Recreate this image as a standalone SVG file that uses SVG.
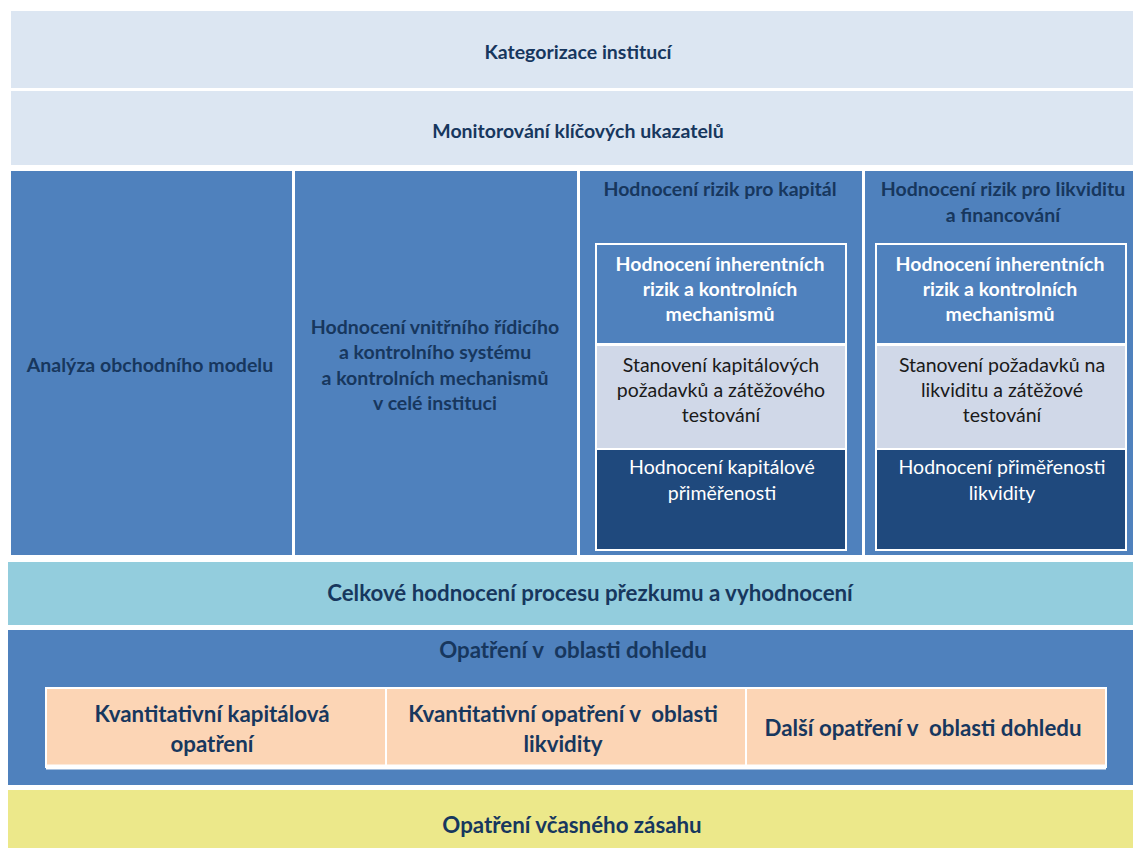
<svg xmlns="http://www.w3.org/2000/svg" width="1133" height="848" viewBox="0 0 1133 848">
<style>
.t{font-family:Lato,"Open Sans","Liberation Sans",sans-serif;text-anchor:middle;white-space:pre}
.b{font-weight:bold}
.navy{fill:#17375e}
.w{fill:#ffffff}
.k{fill:#1a1a1a}
.s16{font-size:19.5px}
.s19{font-size:22.3px}
.inner{stroke:#ffffff;stroke-width:2}
</style>
<rect width="1133" height="848" fill="#ffffff"/>
<g id="kategorizace">
<rect x="11" y="11" width="1122" height="77" fill="#dce6f2"/>
<text class="t b navy s16" x="578" y="59">Kategorizace institucí</text>
</g>
<g id="monitorovani">
<rect x="11" y="91" width="1122" height="74" fill="#dce6f2"/>
<text class="t b navy s16" x="578" y="138">Monitorování klíčových ukazatelů</text>
</g>
<g id="analyza">
<rect x="11" y="171" width="281" height="384" fill="#4f81bd"/>
<text class="t b navy s16" x="150" y="372">Analýza obchodního modelu</text>
</g>
<g id="vnitrni">
<rect x="295" y="171" width="282" height="384" fill="#4f81bd"/>
<text class="t b navy s16" x="435" y="334">Hodnocení vnitřního řídicího</text>
<text class="t b navy s16" x="435" y="359">a kontrolního systému</text>
<text class="t b navy s16" x="435" y="385">a kontrolních mechanismů</text>
<text class="t b navy s16" x="435" y="410">v celé instituci</text>
</g>
<g id="kapital">
<rect x="580" y="171" width="282" height="384" fill="#4f81bd"/>
<text class="t b navy s16" x="720" y="196">Hodnocení rizik pro kapitál</text>
<rect class="inner" x="596" y="244" width="250" height="306" fill="#4f81bd"/>
<text class="t b w s16" x="720" y="271">Hodnocení inherentních</text>
<text class="t b w s16" x="720" y="296">rizik a kontrolních</text>
<text class="t b w s16" x="720" y="321">mechanismů</text>
<rect x="597" y="346" width="248" height="102" fill="#d0d8e8"/>
<text class="t k s16" x="721" y="372">Stanovení kapitálových</text>
<text class="t k s16" x="721" y="397">požadavků a zátěžového</text>
<text class="t k s16" x="721" y="422">testování</text>
<rect x="597" y="450" width="248" height="99" fill="#1f497d"/>
<text class="t w s16" x="722" y="474">Hodnocení kapitálové</text>
<text class="t w s16" x="722" y="500">přiměřenosti</text>
<line x1="595" y1="344.5" x2="847" y2="344.5" stroke="#ffffff" stroke-width="3"/>
<line x1="596" y1="449" x2="846" y2="449" stroke="#ffffff" stroke-width="2"/>
</g>
<g id="likvidita">
<rect x="865" y="171" width="268" height="384" fill="#4f81bd"/>
<text class="t b navy s16" x="1003" y="196">Hodnocení rizik pro likviditu</text>
<text class="t b navy s16" x="1003" y="222">a financování</text>
<rect class="inner" x="876" y="244" width="250" height="306" fill="#4f81bd"/>
<text class="t b w s16" x="1000" y="271">Hodnocení inherentních</text>
<text class="t b w s16" x="1000" y="296">rizik a kontrolních</text>
<text class="t b w s16" x="1000" y="321">mechanismů</text>
<rect x="877" y="346" width="248" height="102" fill="#d0d8e8"/>
<text class="t k s16" x="1002" y="372">Stanovení požadavků na</text>
<text class="t k s16" x="1002" y="397">likviditu a zátěžové</text>
<text class="t k s16" x="1002" y="422">testování</text>
<rect x="877" y="450" width="248" height="99" fill="#1f497d"/>
<text class="t w s16" x="1002" y="474">Hodnocení přiměřenosti</text>
<text class="t w s16" x="1002" y="500">likvidity</text>
<line x1="875" y1="344.5" x2="1127" y2="344.5" stroke="#ffffff" stroke-width="3"/>
<line x1="876" y1="449" x2="1126" y2="449" stroke="#ffffff" stroke-width="2"/>
</g>
<g id="celkove">
<rect x="8" y="562" width="1125" height="63" fill="#93cddd"/>
<text class="t b navy s19" x="590" y="601">Celkové hodnocení procesu přezkumu a vyhodnocení</text>
</g>
<g id="opatreni">
<rect x="8" y="630" width="1125" height="155" fill="#4f81bd"/>
<text class="t b navy s19" x="573" y="658">Opatření v  oblasti dohledu</text>
</g>
<g id="kvant-kapital">
<rect x="46" y="688" width="340" height="79" fill="#fcd5b5" stroke="#ffffff" stroke-width="2"/>
<text class="t b navy s19" x="212" y="722">Kvantitativní kapitálová</text>
<text class="t b navy s19" x="212" y="752">opatření</text>
</g>
<g id="kvant-likvidita">
<rect x="386" y="688" width="360" height="79" fill="#fcd5b5" stroke="#ffffff" stroke-width="2"/>
<text class="t b navy s19" x="563" y="722">Kvantitativní opatření v  oblasti</text>
<text class="t b navy s19" x="563" y="752">likvidity</text>
</g>
<g id="dalsi">
<rect x="746" y="688" width="360" height="79" fill="#fcd5b5" stroke="#ffffff" stroke-width="2"/>
<text class="t b navy s19" x="923" y="736">Další opatření v  oblasti dohledu</text>
</g>
<g id="bottom-line">
<line x1="46" y1="767" x2="1106" y2="767" stroke="#ffffff" stroke-width="5"/>
</g>
<g id="vcasny">
<rect x="8" y="790" width="1125" height="58" fill="#ece88a"/>
<text class="t b navy s19" x="572" y="833">Opatření včasného zásahu</text>
</g>
<g id="connectors"></g>
</svg>
